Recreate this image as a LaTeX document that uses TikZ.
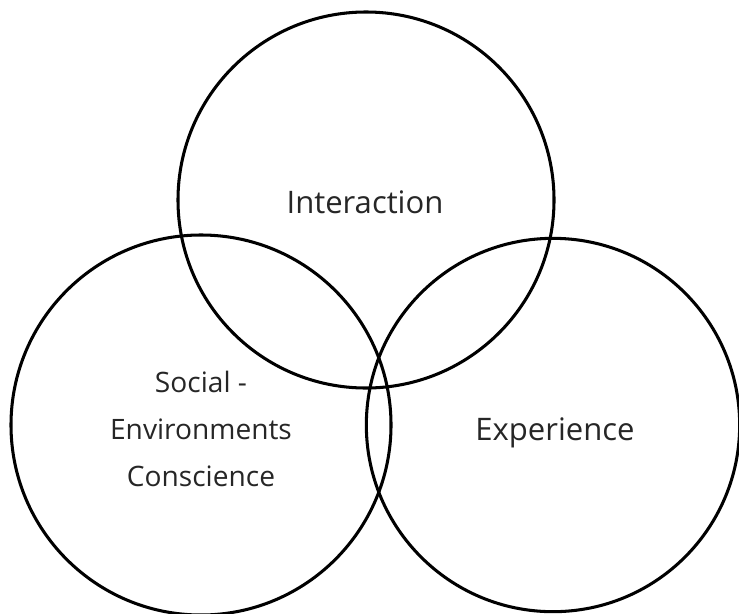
\documentclass[tikz,border=0pt]{standalone}
\usepackage{fontspec}
\setmainfont{Open Sans}
\usepackage{tikz}
\usetikzlibrary{positioning}

\begin{document}
\begin{tikzpicture}[
  x=0.03cm, y=-0.03cm,
  set/.style={draw=black, line width=2.6pt},
  lbl/.style={align=center, text=black!85, font=\fontsize{24}{40}\selectfont},
  biglbl/.style={lbl, font=\fontsize{26.5}{40}\selectfont},
]
\useasboundingbox (0,0) rectangle (739,613);
% centres of the three sets
\coordinate (cInter) at (366,200);
\coordinate (cSocial) at (201,425);
\coordinate (cExper) at (553,425);
\draw[set] (cInter) circle[radius=5.64cm];
\draw[set] (cSocial) circle[radius=5.7cm];
\draw[set] (cExper) circle[radius=5.6cm];
% set labels
\node[biglbl] (inter) at (365,202) {Interaction};
\node[lbl] (social) at (201,429) {Social -\\Environments\\Conscience};
\node[biglbl] (exper) at (555,433) {Experience};
\end{tikzpicture}
\end{document}
